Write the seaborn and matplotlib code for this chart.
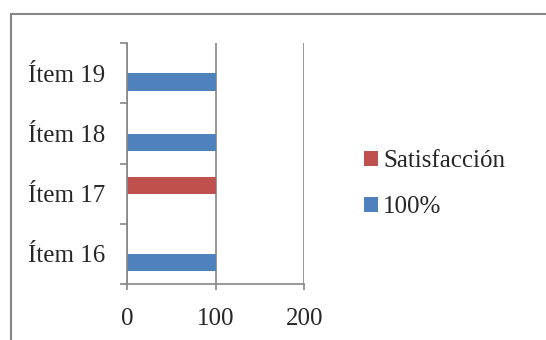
import numpy as np
import pandas as pd
import matplotlib
matplotlib.use('Agg')
import matplotlib.pyplot as plt
import seaborn as sns
from matplotlib.patches import Rectangle

# data
items = ['Ítem 19', 'Ítem 18', 'Ítem 17', 'Ítem 16']
satisfaccion = [np.nan, np.nan, 100, np.nan]
cien = [100, 100, np.nan, 100]
series = ['Satisfacción', '100%']
colors = ['#C0504D', '#4F81BD']
xticks = [0, 100, 200]

data = pd.DataFrame({
    'item': items * 2,
    'valor': satisfaccion + cien,
    'serie': [series[0]] * len(items) + [series[1]] * len(items),
}).dropna()

sns.set_style('white')
plt.rcParams['font.family'] = ['Liberation Serif', 'DejaVu Serif']

fig = plt.figure(figsize=(5.46, 3.40), dpi=100)
ax = fig.add_axes([0.2326, 0.1647, 0.5573 - 0.2326, 0.8726 - 0.1647])

sns.barplot(data=data, x='valor', y='item', hue='serie', order=items,
            hue_order=series, palette=colors, width=0.57, orient='h',
            dodge=True, saturation=1, linewidth=0, ax=ax, legend=True)

grey = '#868686'
ax.set_xlim(0, 200)
ax.set_ylim(len(items) - 0.5, -0.5)
ax.set_xticks(xticks)
ax.set_xticklabels([str(t) for t in xticks])
ax.xaxis.grid(True, color=grey, linewidth=1.2)
ax.set_axisbelow(True)
ax.set_xlabel('')
ax.set_ylabel('')

for s in ['top', 'right']:
    ax.spines[s].set_visible(False)
for s in ['left', 'bottom']:
    ax.spines[s].set_color(grey)
    ax.spines[s].set_linewidth(1.2)

ax.set_yticks(np.arange(-0.5, len(items)), minor=True)
ax.tick_params(axis='y', which='major', length=0, pad=16, labelsize=18)
ax.tick_params(axis='y', which='minor', length=5, color=grey, width=1.2, left=True)
ax.tick_params(axis='x', which='major', length=4, color=grey, width=1.2,
               pad=13, labelsize=18, bottom=True)

handles, labels = ax.get_legend_handles_labels()
ax.get_legend().remove()
fig.legend(handles, labels, loc='center left', bbox_to_anchor=(0.625, 0.458),
           frameon=False, fontsize=18, handlelength=0.58, handleheight=0.58,
           handletextpad=0.2, labelspacing=0.95)

fig.patches.append(Rectangle((10.5 / 546, -0.02), 1.0, 0.9788,
                             transform=fig.transFigure, fill=False,
                             edgecolor=grey, linewidth=1.5))

fig.savefig('out.png', dpi=100)
